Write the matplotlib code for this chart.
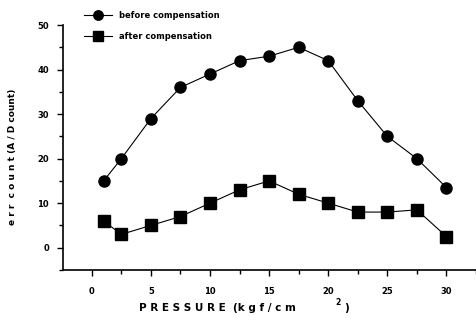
import numpy as np
import matplotlib.pyplot as plt
from matplotlib.ticker import MultipleLocator

pressure = [1, 2.5, 5, 7.5, 10, 12.5, 15, 17.5, 20, 22.5, 25, 27.5, 30]
before = [15, 20, 29, 36, 39, 42, 43, 45, 42, 33, 25, 20, 13.5]
after = [6, 3, 5, 7, 10, 13, 15, 12, 10, 8, 8, 8.5, 2.5]

fig = plt.figure(figsize=(4.76, 3.21), dpi=100)
ax = fig.add_axes([0.132, 0.159, 0.868, 0.763])

ax.plot(pressure, before, color='black', lw=0.8, marker='o', ms=8,
        label='before compensation')
ax.plot(pressure, after, color='black', lw=0.8, marker='s', ms=8,
        label='after compensation')

ax.set_xlim(-2.45, 32.5)
ax.set_ylim(-5, 50)
ax.spines['top'].set_visible(False)
ax.spines['right'].set_visible(False)
ax.spines['left'].set_linewidth(1.2)
ax.spines['bottom'].set_linewidth(1.2)

ax.set_xticks([0, 5, 10, 15, 20, 25, 30])
ax.set_yticks([0, 10, 20, 30, 40, 50])
ax.xaxis.set_minor_locator(MultipleLocator(2.5))
ax.yaxis.set_minor_locator(MultipleLocator(5))
ax.tick_params(which='major', length=4, width=1, labelsize=6, pad=8)
ax.tick_params(axis='y', which='major', pad=6)
ax.tick_params(which='minor', length=3, width=1)
for lab in ax.get_xticklabels() + ax.get_yticklabels():
    lab.set_fontweight('bold')

# axis titles placed like the scanned original
fig.text(0.293, 0.04, 'P R E S S U R E  (k g f / c m', fontsize=7.5,
         fontweight='bold', ha='left', va='center')
fig.text(0.704, 0.045, '2', fontsize=5.5, fontweight='bold', ha='left', va='bottom')
fig.text(0.724, 0.04, ')', fontsize=7.5, fontweight='bold', ha='left', va='center')
fig.text(0.026, 0.51, 'e r r  c o u n t (A / D count)', fontsize=6.5,
         fontweight='bold', rotation=90, ha='center', va='center')

fig.legend(loc='upper left', bbox_to_anchor=(0.16, 0.99), frameon=False,
           handlelength=3.4, labelspacing=1.5, markerscale=0.85,
           prop={'weight': 'bold', 'size': 6})

fig.savefig('out.png', dpi=100)
